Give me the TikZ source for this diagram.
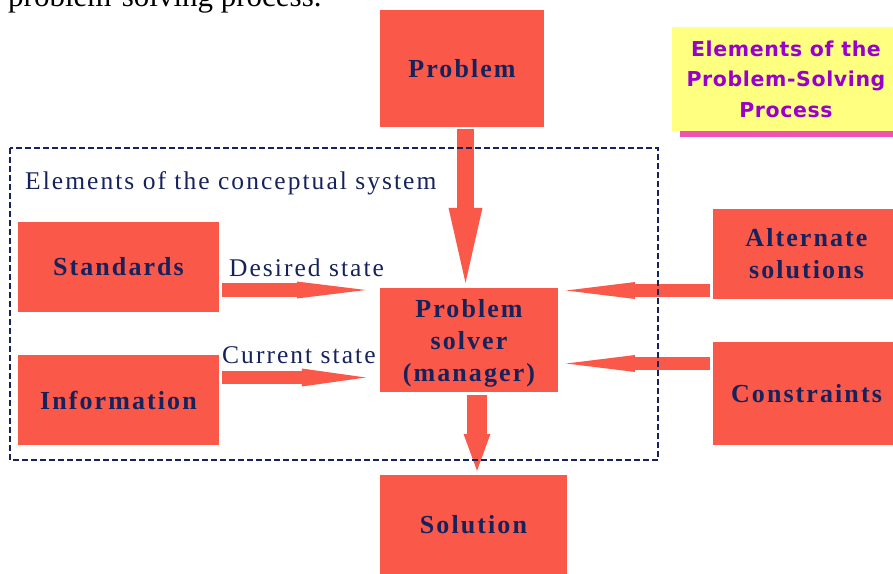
\documentclass[tikz,border=0pt]{standalone}
\usepackage{fontspec}
\setmainfont{Liberation Serif}
\newfontfamily\lblfont[LetterSpace=8]{Liberation Serif}
\newfontfamily\titlefont[LetterSpace=3]{DejaVu Sans}
\usetikzlibrary{arrows.meta,shadows}
\definecolor{boxred}{RGB}{250,88,72}
\definecolor{inknavy}{RGB}{22,34,92}
\definecolor{notepurple}{RGB}{153,0,204}
\definecolor{noteyellow}{RGB}{255,255,128}
\definecolor{notepink}{RGB}{240,84,176}

\tikzset{
  redbox/.style={fill=boxred, text=inknavy, align=center, inner sep=0pt,
    font=\lblfont\bfseries\fontsize{26}{32}\selectfont},
  statelabel/.style={text=inknavy, anchor=base west, inner sep=0pt,
    font=\lblfont\fontsize{25.5}{28}\selectfont},
  fatarrow/.style n args={3}{draw=boxred, line width=#1,
    -{Triangle[width=#2, length=#3, line width=0pt]}}
}

\begin{document}
\begin{tikzpicture}[x=1pt, y=-1pt]
  \useasboundingbox (0,0) rectangle (893,573);
  % last line of the page text, cut off at the top
  \node[anchor=base west, inner sep=0pt, font=\fontsize{31}{36}\selectfont] (pagetext) at (8,6) {problem-solving process.};

  % boxes
  \node[redbox, minimum width=164, minimum height=117] (problem) at (462,68.5) {Problem};
  \node[redbox, minimum width=201, minimum height=90] (standards) at (118.5,267) {Standards};
  \node[redbox, minimum width=201, minimum height=90] (information) at (118.5,400) {Information};
  \node[redbox, minimum width=178, minimum height=104, text depth=0pt] (solver) at (469,340) {Problem\\solver\\(manager)};
  \node[redbox, minimum width=187, minimum height=100] (solution) at (473.5,525) {Solution};
  \node[redbox, minimum width=187, minimum height=90] (altsol) at (806.5,254) {Alternate\\solutions};
  \node[redbox, minimum width=187, minimum height=103] (constraints) at (806.5,393.5) {Constraints};

  % block arrows
  \draw[fatarrow={17pt}{34pt}{75pt}, shorten <=2pt, shorten >=5pt] (problem.south -| 465.5,0) -- (solver.north -| 465.5,0);
  \draw[fatarrow={14pt}{17pt}{69pt}, shorten <=3pt, shorten >=14pt] (standards.east |- 0,290) -- (solver.west |- 0,290);
  \draw[fatarrow={13pt}{18pt}{64pt}, shorten <=3pt, shorten >=14pt] (information.east |- 0,377.5) -- (solver.west |- 0,377.5);
  \draw[fatarrow={13pt}{17pt}{69pt}, shorten <=3pt, shorten >=8pt] (altsol.west |- 0,290.5) -- (solver.east |- 0,290.5);
  \draw[fatarrow={13pt}{17pt}{69pt}, shorten <=3pt, shorten >=8pt] (constraints.west |- 0,363.5) -- (solver.east |- 0,363.5);
  \draw[fatarrow={20pt}{27pt}{37pt}, shorten <=3pt, shorten >=4pt] (solver.south -| 477,0) -- (solution.north -| 477,0);

  % labels
  \node[statelabel] (desired) at (229,276) {Desired state};
  \node[statelabel] (current) at (222,363) {Current state};
  \node[statelabel] (systemlabel) at (25,189) {Elements of the conceptual system};

  % conceptual system frame
  \draw[inknavy, line width=1.8pt, dash pattern=on 6pt off 3pt] (10,148) rectangle (658,460);

  % title note
  \node[fill=noteyellow, text=notepurple, align=center, inner sep=0pt,
    minimum width=228, minimum height=104,
    font=\titlefont\bfseries\fontsize{20.5}{30.5}\selectfont,
    drop shadow={shadow xshift=8pt, shadow yshift=-6pt, fill=notepink, opacity=1}]
    (title) at (786,79) {Elements of the\\Problem-Solving\\Process};
\end{tikzpicture}
\end{document}
